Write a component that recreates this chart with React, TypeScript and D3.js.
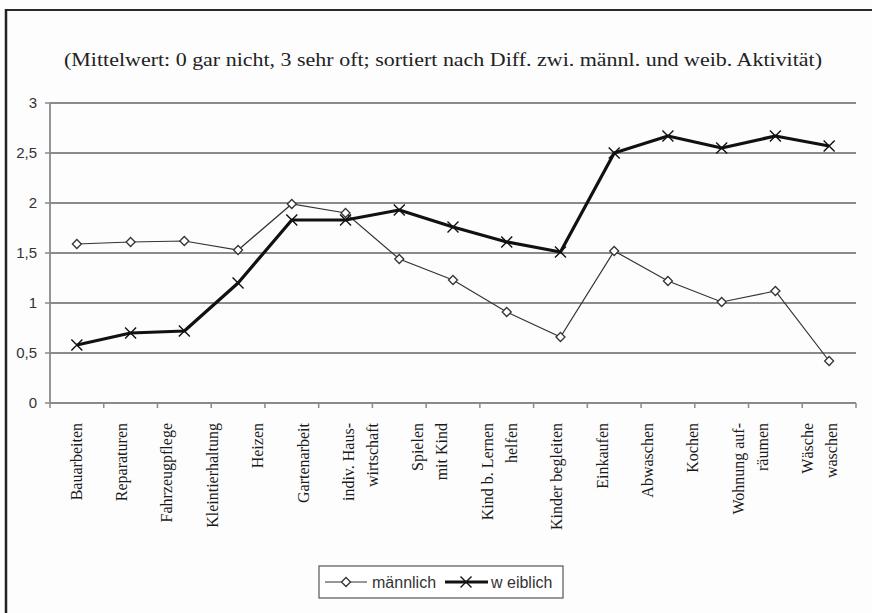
import React from "react";
import * as d3 from "d3";

const categories: string[][] = [
  ["Bauarbeiten"],
  ["Reparaturen"],
  ["Fahrzeugpflege"],
  ["Kleintierhaltung"],
  ["Heizen"],
  ["Gartenarbeit"],
  ["indiv. Haus-", "wirtschaft"],
  ["Spielen", "mit Kind"],
  ["Kind b. Lernen", "helfen"],
  ["Kinder begleiten"],
  ["Einkaufen"],
  ["Abwaschen"],
  ["Kochen"],
  ["Wohnung auf-", "räumen"],
  ["Wäsche", "waschen"],
];

const maennlich: number[] = [1.59, 1.61, 1.62, 1.53, 1.99, 1.9, 1.44, 1.23, 0.91, 0.66, 1.52, 1.22, 1.01, 1.12, 0.42];
const weiblich: number[] = [0.58, 0.7, 0.72, 1.2, 1.83, 1.83, 1.93, 1.76, 1.61, 1.51, 2.5, 2.67, 2.55, 2.67, 2.57];

const yTicks: number[] = [0, 0.5, 1, 1.5, 2, 2.5, 3];
const yTickLabels: string[] = ["0", "0,5", "1", "1,5", "2", "2,5", "3"];

const title = "(Mittelwert: 0 gar nicht, 3 sehr oft; sortiert nach Diff. zwi. männl. und weib. Aktivität)";
const legendLabels: string[] = ["männlich", "w eiblich"];

const W = 872;
const H = 613;
const plot = { left: 50, right: 856, top: 103, bottom: 403 };

export default function App() {
  const idx = categories.map((_, i) => String(i));
  const x = d3.scaleBand<string>().domain(idx).range([plot.left, plot.right]).padding(0);
  const y = d3.scaleLinear().domain([0, 3]).range([plot.bottom, plot.top]);
  const cx = (i: number) => (x(String(i)) as number) + x.bandwidth() / 2;

  const line = d3
    .line<number>()
    .x((_, i) => cx(i))
    .y((d) => y(d));

  // label layout: labels flow with fixed step plus extra room for 2nd lines
  const labelStep = 45.4;
  const lineStep = 24;
  let extra = 0;
  const labelPos = categories.map((lines, i) => {
    const pos = cx(0) + labelStep * i + lineStep * extra;
    extra += lines.length - 1;
    return pos;
  });

  const grey = "#8a8a8a";
  const serif = "'Liberation Serif', 'Times New Roman', serif";
  const sans = "'Liberation Sans', Arial, sans-serif";

  const diamond = (px: number, py: number, r = 4.5) =>
    `M${px},${py - r}L${px + r},${py}L${px},${py + r}L${px - r},${py}Z`;
  const cross = (px: number, py: number, r = 5.5) =>
    `M${px - r},${py - r}L${px + r},${py + r}M${px - r},${py + r}L${px + r},${py - r}`;

  return (
    <svg
      width={W}
      height={H}
      style={{ position: "absolute", left: 0, top: 0, background: "#fdfdfd" }}
    >
      <rect x={0} y={0} width={W} height={H} fill="#fdfdfd" />
      {/* frame */}
      <line x1={5} y1={10} x2={W} y2={10} stroke="#2a2a2a" strokeWidth={2} />
      <line x1={6} y1={9} x2={6} y2={H} stroke="#222" strokeWidth={2.5} />

      {/* title */}
      <text
        x={64}
        y={66}
        textLength={758}
        lengthAdjust="spacingAndGlyphs"
        fontFamily={serif}
        fontSize={19}
        fill="#222"
      >
        {title}
      </text>

      {/* grid lines */}
      {yTicks.slice(1).map((t) => (
        <line key={t} x1={plot.left} x2={plot.right} y1={y(t)} y2={y(t)} stroke={grey} strokeWidth={1.8} />
      ))}

      {/* y axis */}
      <line x1={plot.left} x2={plot.left} y1={plot.top} y2={plot.bottom} stroke={grey} strokeWidth={1.8} />
      {yTicks.map((t, i) => (
        <g key={t}>
          <line x1={plot.left - 5} x2={plot.left} y1={y(t)} y2={y(t)} stroke={grey} strokeWidth={1.5} />
          <text
            x={37}
            y={y(t)}
            dy="0.36em"
            textAnchor="end"
            fontFamily={sans}
            fontSize={15}
            fill="#333"
          >
            {yTickLabels[i]}
          </text>
        </g>
      ))}

      {/* x axis */}
      <line x1={plot.left} x2={plot.right} y1={plot.bottom} y2={plot.bottom} stroke={grey} strokeWidth={1.8} />
      {idx.concat([String(categories.length)]).map((k, i) => {
        const px = i < categories.length ? (x(k) as number) : plot.right;
        return <line key={k} x1={px} x2={px} y1={plot.bottom} y2={plot.bottom + 5} stroke={grey} strokeWidth={1.5} />;
      })}

      {/* x labels */}
      {categories.map((lines, i) => (
        <text
          key={i}
          transform={`translate(${labelPos[i]},${423}) rotate(-90)`}
          textAnchor="end"
          fontFamily={serif}
          fontSize={16}
          fill="#1a1a1a"
        >
          {lines.map((l, j) => (
            <tspan key={j} x={0} dy={j === 0 ? "0.3em" : `${lineStep}px`}>
              {l}
            </tspan>
          ))}
        </text>
      ))}

      {/* series: männlich */}
      <path d={line(maennlich) || ""} fill="none" stroke="#333" strokeWidth={1.2} />
      {maennlich.map((v, i) => (
        <path key={i} d={diamond(cx(i), y(v))} fill="#fff" stroke="#333" strokeWidth={1.3} />
      ))}

      {/* series: weiblich */}
      <path d={line(weiblich) || ""} fill="none" stroke="#111" strokeWidth={3.2} strokeLinejoin="round" />
      {weiblich.map((v, i) => (
        <path key={i} d={cross(cx(i), y(v))} fill="none" stroke="#111" strokeWidth={1.4} />
      ))}

      {/* legend */}
      <rect x={319} y={566} width={244} height={32} fill="#fff" stroke="#555" strokeWidth={1.2} />
      <line x1={325} x2={367} y1={582} y2={582} stroke="#333" strokeWidth={1.2} />
      <path d={diamond(346, 582)} fill="#fff" stroke="#333" strokeWidth={1.3} />
      <text x={372} y={582} dy="0.36em" fontFamily={sans} fontSize={16} fill="#333">
        {legendLabels[0]}
      </text>
      <line x1={445} x2={488} y1={582} y2={582} stroke="#111" strokeWidth={3.2} />
      <path d={cross(466, 582)} fill="none" stroke="#111" strokeWidth={1.4} />
      <text x={491} y={582} dy="0.36em" fontFamily={sans} fontSize={16} fill="#333">
        {legendLabels[1]}
      </text>
    </svg>
  );
}
